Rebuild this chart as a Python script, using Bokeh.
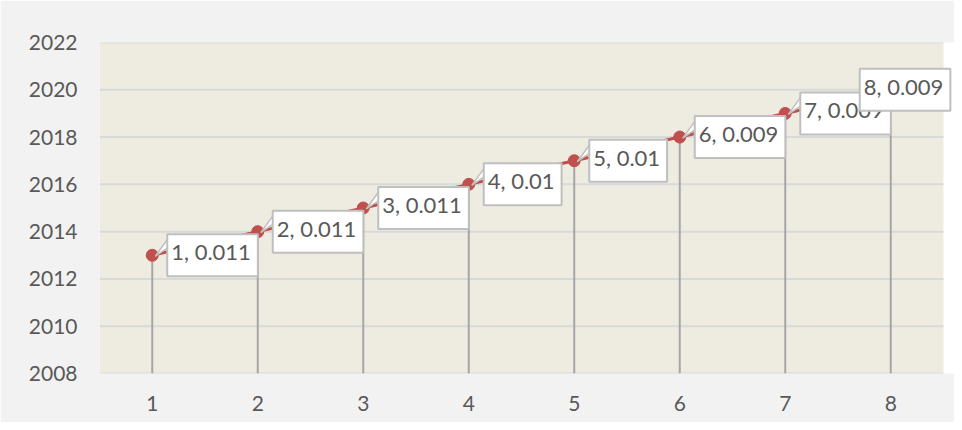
from bokeh.plotting import figure
from bokeh.models import Label, Range1d, FixedTicker
from bokeh.embed import file_html
from bokeh.resources import INLINE

# ---- data ----
categories = [1, 2, 3, 4, 5, 6, 7, 8]
years = [2013, 2014, 2015, 2016, 2017, 2018, 2019, 2020]
rates = ["0.011", "0.011", "0.011", "0.01", "0.01", "0.009", "0.009", "0.009"]
y_ticks = [2008, 2010, 2012, 2014, 2016, 2018, 2020, 2022]

# ---- style / layout ----
W, H = 954, 422
LEFT, RIGHT, TOP, BOTTOM = 99, 0, 42, 49
PLOT_RIGHT_PAD_PX = 11          # grey strip right of the beige plot area
FONT = "Lato"
TXT = "#595959"
RED = "#C0504D"
GRID = "#D9D9D9"

Y0, Y1 = y_ticks[0], y_ticks[-1]
X0, X1 = 0.5, len(categories) + 0.5
frame_w = W - LEFT - RIGHT
frame_h = H - TOP - BOTTOM
unit_px = (frame_w - PLOT_RIGHT_PAD_PX) / (X1 - X0)
XE = X1 + PLOT_RIGHT_PAD_PX / unit_px
px_x = (XE - X0) / frame_w      # data units per pixel
px_y = (Y1 - Y0) / frame_h

p = figure(width=W, height=H, output_backend="svg", toolbar_location=None,
           x_range=Range1d(X0, XE), y_range=Range1d(Y0, Y1),
           min_border_left=LEFT, min_border_right=RIGHT,
           min_border_top=TOP, min_border_bottom=BOTTOM,
           background_fill_color=None, border_fill_color="#F2F2F2",
           outline_line_color=None)

# axes
p.xaxis.ticker = FixedTicker(ticks=categories)
p.yaxis.ticker = FixedTicker(ticks=y_ticks)
for ax in (p.xaxis, p.yaxis):
    ax.axis_line_color = None
    ax.major_tick_line_color = None
    ax.minor_tick_line_color = None
    ax.major_tick_out = 0
    ax.major_tick_in = 0
    ax.major_label_text_font = FONT
    ax.major_label_text_font_size = "21px"
    ax.major_label_text_color = TXT
p.yaxis.major_label_standoff = 22
p.xaxis.major_label_standoff = 22
p.xgrid.grid_line_color = None
p.ygrid.grid_line_color = None

# beige plot area and horizontal gridlines (limited to the category span)
p.quad(left=[X0], right=[X1], bottom=[Y0], top=[Y1],
       fill_color="#EEECE1", line_color=None)
p.segment(x0=[X0] * len(y_ticks), y0=y_ticks, x1=[X1] * len(y_ticks), y1=y_ticks,
          line_color=GRID, line_width=2)

# drop lines
p.segment(x0=categories, y0=[Y0] * len(categories), x1=categories, y1=years,
          line_color="#A6A6A6", line_width=2)
# series line + markers
p.line(categories, years, line_color=RED, line_width=3)
p.scatter(categories, years, size=12, fill_color=RED, line_color=RED)

# callout pointers (all but the last, whose box covers its point)
xs, ys = [], []
for c, yr in zip(categories[:-1], years[:-1]):
    xs.append([c + 3 * px_x, c + 16 * px_x, c + 16 * px_x])
    ys.append([yr - 1 * px_y, yr + 17 * px_y, yr + 8 * px_y])
p.patches(xs, ys, fill_color="white", line_color="#BFBFBF", line_width=1.5)

# data labels
for i, (c, yr, r) in enumerate(zip(categories, years, rates)):
    xoff = 15 if i < len(categories) - 1 else -31
    p.add_layout(Label(x=c, y=yr, text=f"{c}, {r}", x_offset=xoff, y_offset=0,
                       text_align="left", text_baseline="middle",
                       text_font=FONT, text_font_size="22px", text_color=TXT,
                       background_fill_color="white", background_fill_alpha=1.0,
                       border_line_color="#BFBFBF", border_line_width=2,
                       padding=(4, 7, 4, 11)))

open("out.html", "w").write(file_html(p, INLINE))
